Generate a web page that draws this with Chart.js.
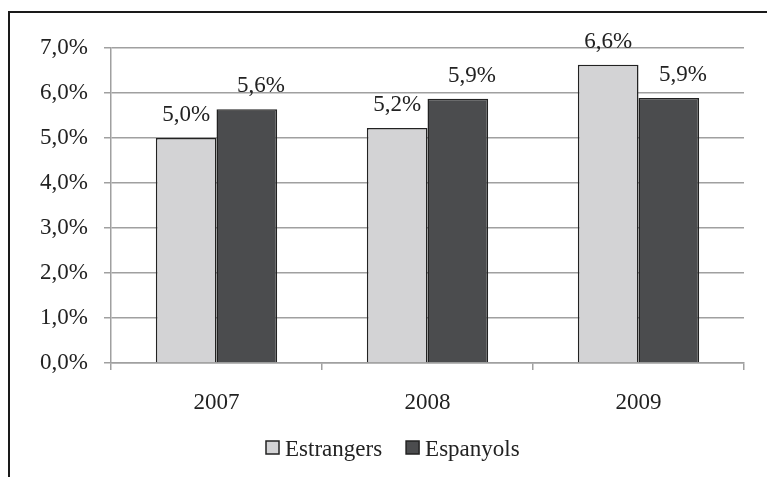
<!DOCTYPE html>
<html>
<head>
<meta charset="utf-8">
<script src="https://cdn.jsdelivr.net/npm/chart.js@4/dist/chart.umd.min.js"></script>
<style>
  html, body { margin: 0; padding: 0; background: #fff; }
  #wrap { position: relative; width: 767px; height: 477px; }
</style>
</head>
<body>
<div id="wrap"><canvas id="chart"></canvas></div>
<script>
// chart data
const years = ['2007', '2008', '2009']
const estrangers = [5.0, 5.22, 6.63]
const espanyols = [5.64, 5.87, 5.89]
const yTicks = [0, 1, 2, 3, 4, 5, 6, 7]

const serif = '"Liberation Serif", "Times New Roman", Tinos, serif'

// format a value like 5,6%
function fmt(v) {
	return v.toFixed(1).replace('.', ',') + '%'
}

// black frame on top and left, as in the scanned figure
const framePlugin = {
	id: 'frame',
	afterDraw(chart) {
		const ctx = chart.ctx
		ctx.save()
		ctx.strokeStyle = '#1a1a1a'
		ctx.lineWidth = 2
		ctx.beginPath()
		ctx.moveTo(767, 12)
		ctx.lineTo(9, 12)
		ctx.lineTo(9, 477)
		ctx.stroke()
		ctx.restore()
	},
}

// value labels above each bar
const labelPlugin = {
	id: 'barLabels',
	afterDatasetsDraw(chart) {
		const ctx = chart.ctx
		ctx.save()
		ctx.font = '23px ' + serif
		ctx.fillStyle = '#222'
		ctx.textAlign = 'center'
		ctx.textBaseline = 'alphabetic'
		chart.data.datasets.forEach((ds, i) => {
			const meta = chart.getDatasetMeta(i)
			const shift = i === 1 ? 14 : 0
			meta.data.forEach((bar, j) => {
				ctx.fillText(fmt(ds.data[j]), bar.x + shift, bar.y - 17)
			})
		})
		ctx.restore()
	},
}

// legend below the axis: small square, tight gap, then the series name
const legendPlugin = {
	id: 'bottomLegend',
	afterDraw(chart) {
		const ctx = chart.ctx
		ctx.save()
		ctx.font = '23px ' + serif
		ctx.textBaseline = 'alphabetic'
		ctx.textAlign = 'left'
		let x = 266
		chart.data.datasets.forEach((ds) => {
			ctx.fillStyle = ds.backgroundColor
			ctx.fillRect(x, 441, 13, 13)
			ctx.strokeStyle = '#222'
			ctx.lineWidth = 1.5
			ctx.strokeRect(x, 441, 13, 13)
			ctx.fillStyle = '#222'
			ctx.fillText(ds.label, x + 19, 455.5)
			x += 19 + ctx.measureText(ds.label).width + 24
		})
		ctx.restore()
	},
}

new Chart(document.getElementById('chart'), {
	type: 'bar',
	data: {
		labels: years,
		datasets: [
			{
				label: 'Estrangers',
				data: estrangers,
				backgroundColor: '#d3d3d5',
				borderColor: '#222',
				borderWidth: 1.5,
				categoryPercentage: 0.575,
				barPercentage: 1,
			},
			{
				label: 'Espanyols',
				data: espanyols,
				backgroundColor: '#4b4c4e',
				borderColor: '#222',
				borderWidth: 1.5,
				categoryPercentage: 0.575,
				barPercentage: 1,
			},
		],
	},
	options: {
		responsive: true,
		maintainAspectRatio: false,
		animation: false,
		layout: { padding: { left: 20, right: 23, top: 48, bottom: 0 } },
		scales: {
			x: {
				afterFit: (scale) => {
					scale.height = 114
				},
				grid: {
					offset: true,
					drawOnChartArea: false,
					tickLength: 7,
					color: '#a0a0a0',
					lineWidth: 1.5,
				},
				border: { color: '#a0a0a0', width: 1.5 },
				ticks: { color: '#222', font: { family: serif, size: 23 }, padding: 19 },
			},
			y: {
				min: 0,
				max: 7,
				afterBuildTicks: (scale) => {
					scale.ticks = yTicks.map((v) => ({ value: v }))
				},
				afterFit: (scale) => {
					scale.width = 91
				},
				grid: { color: '#a0a0a0', lineWidth: 1.5, tickLength: 7 },
				border: { color: '#a0a0a0', width: 1.5 },
				ticks: {
					color: '#222',
					font: { family: serif, size: 23 },
					padding: 16,
					callback: (v) => fmt(v),
				},
			},
		},
		plugins: {
			legend: { display: false },
			tooltip: { enabled: false },
		},
	},
	plugins: [framePlugin, labelPlugin, legendPlugin],
})
</script>
</body>
</html>
